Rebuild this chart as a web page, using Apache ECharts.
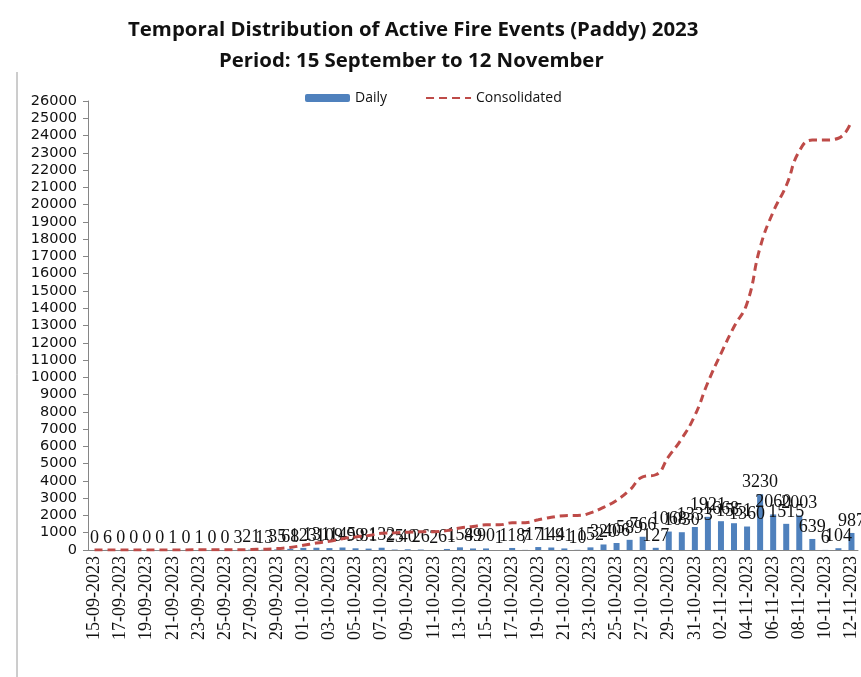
<!DOCTYPE html>
<html>
<head>
<meta charset="utf-8">
<script src="https://cdn.jsdelivr.net/npm/echarts@6/dist/echarts.min.js"></script>
<style>
  html, body { margin: 0; padding: 0; background: #fff; }
  #chart { width: 861px; height: 677px; }
</style>
</head>
<body>
<div id="chart"></div>
<script>
// dates 15-09-2023 .. 12-11-2023
var days = [
  '15-09-2023','16-09-2023','17-09-2023','18-09-2023','19-09-2023','20-09-2023','21-09-2023','22-09-2023',
  '23-09-2023','24-09-2023','25-09-2023','26-09-2023','27-09-2023','28-09-2023','29-09-2023','30-09-2023',
  '01-10-2023','02-10-2023','03-10-2023','04-10-2023','05-10-2023','06-10-2023','07-10-2023','08-10-2023',
  '09-10-2023','10-10-2023','11-10-2023','12-10-2023','13-10-2023','14-10-2023','15-10-2023','16-10-2023',
  '17-10-2023','18-10-2023','19-10-2023','20-10-2023','21-10-2023','22-10-2023','23-10-2023','24-10-2023',
  '25-10-2023','26-10-2023','27-10-2023','28-10-2023','29-10-2023','30-10-2023','31-10-2023','01-11-2023',
  '02-11-2023','03-11-2023','04-11-2023','05-11-2023','06-11-2023','07-11-2023','08-11-2023','09-11-2023',
  '10-11-2023','11-11-2023','12-11-2023'
];

// daily fire events
var daily = [
  0, 6, 0, 0, 0, 0, 1, 0, 1, 0, 0, 3, 21, 13, 35, 68,
  123, 131, 109, 145, 99, 81, 132, 25, 40, 26, 2, 61, 154, 89, 90, 1,
  118, 7, 171, 144, 91, 10, 152, 320, 406, 589, 766, 127, 1068, 1030,
  1333, 1921, 1668, 1551, 1360, 3230, 2060, 1515, 2003, 639, 6, 104, 987
];

// consolidated = running total of daily
var consolidated = [];
var tot = 0;
for (var i = 0; i < daily.length; i++) {
  tot += daily[i];
  consolidated.push(tot);
}

var chart = echarts.init(document.getElementById('chart'));

var titleFont = {
  fontFamily: 'Open Sans',
  fontWeight: 'bold',
  fontSize: 20.4,
  color: '#111'
};

chart.setOption({
  backgroundColor: '#fff',
  animation: false,
  title: [
    { text: 'Temporal Distribution of Active Fire Events (Paddy) 2023', left: 123, top: 15, textStyle: titleFont },
    { text: 'Period: 15 September to 12 November', left: 214, top: 46, textStyle: titleFont }
  ],
  legend: {
    left: 300,
    top: 86,
    itemWidth: 45,
    itemHeight: 8,
    itemGap: 38,
    textStyle: { fontFamily: 'Open Sans', fontSize: 14, color: '#111' },
    data: [
      { name: 'Daily' },
      { name: 'Consolidated', itemStyle: { opacity: 0 } }
    ]
  },
  graphic: [{
    type: 'line',
    shape: { x1: 17, y1: 72, x2: 17, y2: 677 },
    style: { stroke: '#9a9a9a', lineWidth: 1 }
  }],
  grid: { left: 88, right: 3, top: 101, bottom: 127 },
  xAxis: {
    type: 'category',
    data: days,
    boundaryGap: true,
    axisLine: { lineStyle: { color: '#868686' } },
    axisTick: { interval: 1, length: 5, lineStyle: { color: '#868686' } },
    axisLabel: {
      interval: 1,
      rotate: 90,
      margin: 6,
      fontFamily: 'Liberation Serif',
      fontSize: 18,
      color: '#111'
    }
  },
  yAxis: {
    type: 'value',
    min: 0,
    max: 26000,
    interval: 1000,
    splitLine: { show: false },
    axisLine: { show: true, lineStyle: { color: '#868686' } },
    axisTick: { show: true, length: 5, lineStyle: { color: '#868686' } },
    axisLabel: {
      margin: 11,
      fontFamily: 'DejaVu Sans',
      fontSize: 14.5,
      color: '#111',
      formatter: function (v) { return String(v); }
    }
  },
  series: [
    {
      name: 'Daily',
      type: 'bar',
      data: daily,
      barWidth: 6,
      itemStyle: { color: '#4f81bd' },
      label: {
        show: true,
        position: 'top',
        distance: 3,
        fontFamily: 'Liberation Serif',
        fontSize: 18,
        color: '#111'
      },
      z: 2
    },
    {
      name: 'Consolidated',
      type: 'line',
      data: consolidated,
      smooth: true,
      showSymbol: false,
      symbol: 'none',
      lineStyle: { color: '#be4b48', width: 3, type: [8, 5] },
      itemStyle: { color: '#be4b48' },
      z: 3
    }
  ]
});
</script>
</body>
</html>
